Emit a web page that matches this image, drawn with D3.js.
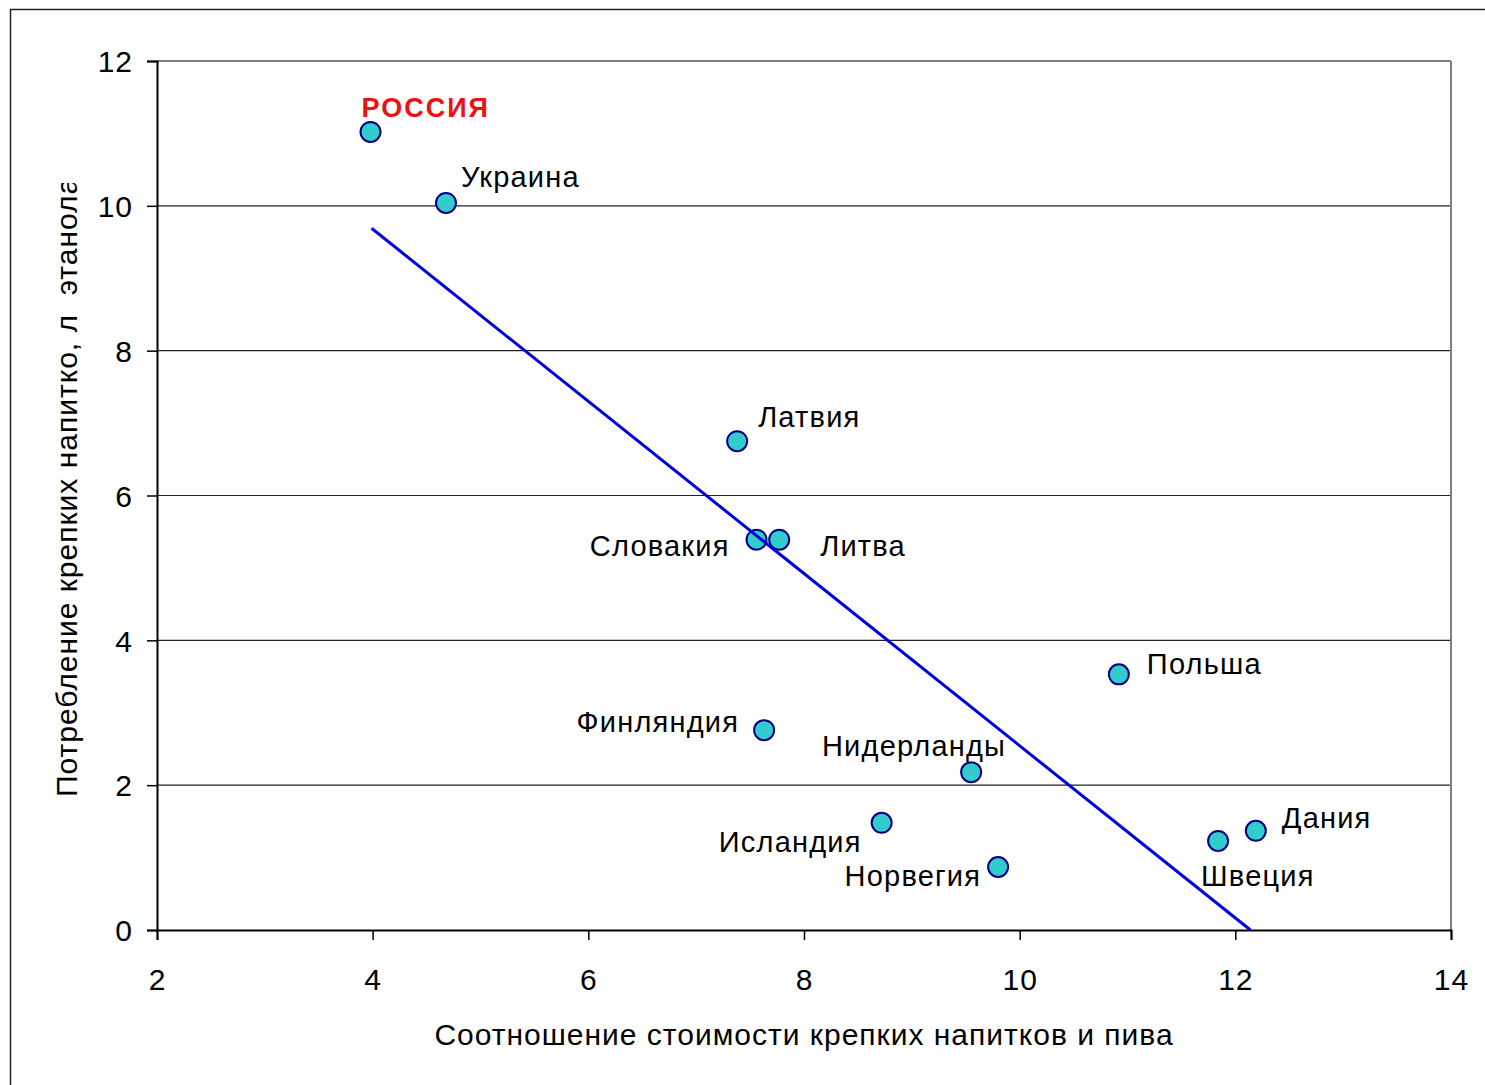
<!DOCTYPE html>
<html>
<head>
<meta charset="utf-8">
<script src="https://cdn.jsdelivr.net/npm/d3@7"></script>
<style>
  html, body { margin: 0; padding: 0; background: #fff; }
  text { font-family: "Liberation Sans", Arial, sans-serif; }
</style>
</head>
<body>
<div id="chart"></div>
<script>
// countries, ratio of spirits price to beer, spirits consumption (l ethanol)
const countries = ["РОССИЯ", "Украина", "Латвия", "Словакия", "Литва", "Польша",
  "Финляндия", "Нидерланды", "Исландия", "Норвегия", "Швеция", "Дания"];
const priceRatio = [3.98, 4.68, 7.38, 7.56, 7.77, 10.92, 7.63, 9.55, 8.72, 9.80, 11.84, 12.19];
const consumption = [11.02, 10.04, 6.75, 5.39, 5.39, 3.53, 2.76, 2.18, 1.48, 0.87, 1.23, 1.37];
// trend line ends
const trendX = [3.99, 12.14];
const trendY = [9.69, 0];
const xTicks = [2, 4, 6, 8, 10, 12, 14];
const yTicks = [0, 2, 4, 6, 8, 10, 12];

// label placement: dx, dy in px from the point, anchor
const labelPos = [
  [-9, -15, "start"], [15, -16, "start"], [21, -14, "start"], [-27, 16, "end"],
  [41, 16, "start"], [28, 0, "start"], [-25, 2, "end"], [35, -16, "end"],
  [-20, 29, "end"], [-17, 19, "end"], [-17, 45, "start"], [26, -3, "start"]
];

const width = 1485, height = 1085;
const margin = {left: 157, right: 34, top: 61, bottom: 155};

let svg = d3.select("#chart").append("svg")
  .attr("width", width)
  .attr("height", height);

// outer frame
svg.append("rect")
  .attr("x", 10.5).attr("y", 9.5)
  .attr("width", width + 20).attr("height", height + 20)
  .attr("fill", "none").attr("stroke", "#222").attr("stroke-width", 1.5);

let x = d3.scaleLinear().domain([2, 14]).range([margin.left, width - margin.right]);
let y = d3.scaleLinear().domain([0, 12]).range([height - margin.bottom, margin.top]);

// gridlines
svg.append("g").selectAll("line")
  .data(yTicks.filter(d => d > 0))
  .enter().append("line")
  .attr("x1", x(2)).attr("x2", x(14))
  .attr("y1", d => y(d)).attr("y2", d => y(d))
  .attr("stroke", d => d === 12 ? "#808080" : "#222")
  .attr("stroke-width", d => d === 12 ? 2 : 1.2);

// right border
svg.append("line")
  .attr("x1", x(14)).attr("x2", x(14))
  .attr("y1", y(12)).attr("y2", y(0))
  .attr("stroke", "#808080").attr("stroke-width", 2);

// axes
let xAxis = d3.axisBottom(x).tickValues(xTicks).tickSize(10).tickPadding(29);
let yAxis = d3.axisLeft(y).tickValues(yTicks).tickSize(10).tickPadding(14);

let gx = svg.append("g")
  .attr("transform", "translate(0," + y(0) + ")")
  .call(xAxis);
let gy = svg.append("g")
  .attr("transform", "translate(" + x(2) + ",0)")
  .call(yAxis);

[gx, gy].forEach(g => {
  g.select(".domain").attr("stroke", "#000").attr("stroke-width", 2);
  g.selectAll(".tick line").attr("stroke", "#000").attr("stroke-width", 1.5);
  g.selectAll(".tick text")
    .attr("fill", "#000")
    .style("font-size", "30px")
    .style("letter-spacing", "1px")
    .style("font-family", "'Liberation Sans', Arial, sans-serif");
});
gy.selectAll(".tick text").attr("dy", "0.36em");

// axis titles
svg.append("text")
  .attr("x", x(8))
  .attr("y", 1045)
  .attr("text-anchor", "middle")
  .style("font-size", "30px")
  .style("letter-spacing", "1px")
  .text("Соотношение стоимости крепких напитков и пива");

svg.append("clipPath").attr("id", "yclip")
  .append("rect").attr("x", 0).attr("y", 183).attr("width", 120).attr("height", 700);

svg.append("g").attr("clip-path", "url(#yclip)")
  .append("text")
  .attr("transform", "translate(77,797) rotate(-90)")
  .attr("text-anchor", "start")
  .style("font-size", "30px")
  .style("letter-spacing", "1px")
  .style("white-space", "pre")
  .text("Потребление крепких напитко, л  этанола");

let data = countries.map((c, i) => ({name: c, px: priceRatio[i], py: consumption[i], pos: labelPos[i]}));

// points
svg.append("g").selectAll("circle")
  .data(data)
  .enter().append("circle")
  .attr("cx", d => x(d.px))
  .attr("cy", d => y(d.py))
  .attr("r", 10)
  .attr("fill", "#33CCCC")
  .attr("stroke", "#000080")
  .attr("stroke-width", 2);

// trend line
svg.append("line")
  .attr("x1", x(trendX[0])).attr("y1", y(trendY[0]))
  .attr("x2", x(trendX[1])).attr("y2", y(trendY[1]))
  .attr("stroke", "#0000DD")
  .attr("stroke-width", 3);

// labels
svg.append("g").selectAll("text")
  .data(data)
  .enter().append("text")
  .attr("x", d => x(d.px) + d.pos[0])
  .attr("y", d => y(d.py) + d.pos[1])
  .attr("text-anchor", d => d.pos[2])
  .style("font-size", (d, i) => i === 0 ? "27px" : "29px")
  .style("letter-spacing", (d, i) => i === 0 ? "2px" : "1.2px")
  .style("font-weight", (d, i) => i === 0 ? "bold" : "normal")
  .attr("fill", (d, i) => i === 0 ? "#EE1111" : "#000")
  .text(d => d.name);
</script>
</body>
</html>
